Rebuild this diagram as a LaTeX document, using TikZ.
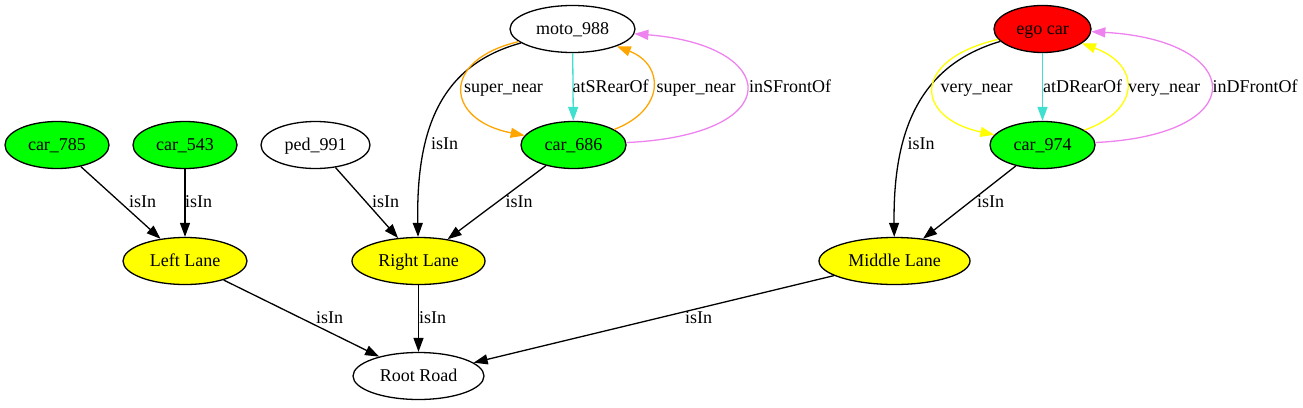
\documentclass[tikz,border=0pt]{standalone}
\usepackage{fontspec}
\setmainfont{Liberation Serif}
\usetikzlibrary{shapes.geometric,arrows.meta}
\definecolor{gvgreen}{RGB}{0,255,0}
\definecolor{gvorange}{RGB}{255,165,0}
\definecolor{gvturq}{RGB}{64,224,208}
\definecolor{gvviolet}{RGB}{238,130,238}
\definecolor{gvyellow}{RGB}{255,255,0}
\definecolor{gvred}{RGB}{255,0,0}
\begin{document}
\begin{tikzpicture}[x=1pt,y=-1pt,
  nd/.style={ellipse,draw=black,line width=1.3pt,minimum height=47pt,inner sep=0pt,
    font=\fontsize{18}{20}\selectfont,text height=12.5pt,text depth=1.5pt},
  lbl/.style={inner sep=0pt,font=\fontsize{18}{20}\selectfont,text height=12.5pt,text depth=1.5pt},
  e/.style={line width=1.3pt,-{Triangle[length=14pt,width=10pt]}},
]
\useasboundingbox (0,0) rectangle (1303,407);
% nodes
\node[nd,fill=gvgreen,minimum width=104pt] (c785) at (57,145) {car\_785};
\node[nd,fill=gvgreen,minimum width=104pt] (c543) at (185,145) {car\_543};
\node[nd,fill=white,minimum width=109pt] (p991) at (315.5,145) {ped\_991};
\node[nd,fill=gvyellow,minimum width=124pt] (ll) at (185,261) {Left Lane};
\node[nd,fill=gvyellow,minimum width=133pt] (rl) at (418.5,261) {Right Lane};
\node[nd,fill=gvyellow,minimum width=151pt] (ml) at (894.5,261) {Middle Lane};
\node[nd,fill=white,minimum width=131pt] (rr) at (418.5,376) {Root Road};
\node[nd,fill=white,minimum width=125pt] (m988) at (572.5,29) {moto\_988};
\node[nd,fill=gvgreen,minimum width=105pt] (c686) at (573.5,145) {car\_686};
\node[nd,fill=gvred,minimum width=97pt] (ego) at (1042.5,29) {ego car};
\node[nd,fill=gvgreen,minimum width=105pt] (c974) at (1042.5,145) {car\_974};
% black isIn edges
\draw[e] (c785) -- (ll);
\draw[e] (c543) -- (ll);
\draw[e] (p991) -- (rl);
\draw[e] (c686) -- (rl);
\draw[e] (c974) -- (ml);
\draw[e] (ll) -- (rr);
\draw[e] (rl) -- (rr);
\draw[e] (ml) -- (rr);
\draw[e] (m988) .. controls (440,65) and (416,130) .. (rl);
\draw[e] (ego) .. controls (920,65) and (893,130) .. (ml);
% moto relations
\draw[e,gvorange] (m988) .. controls (440,60) and (445,120) .. (c686);
\draw[e,gvturq] (m988) -- (c686);
\draw[e,gvorange] (c686) .. controls (665,110) and (665,65) .. (m988);
\draw[e,gvviolet] (c686) .. controls (790,135) and (780,45) .. (m988);
% ego relations
\draw[e,gvyellow] (ego) .. controls (910,60) and (915,118) .. (c974);
\draw[e,gvturq] (ego) -- (c974);
\draw[e,gvyellow] (c974) .. controls (1141,110) and (1141,65) .. (ego);
\draw[e,gvviolet] (c974) .. controls (1255,135) and (1245,40) .. (ego);
% labels
\node[lbl] (l1) at (142.5,202) {isIn};
\node[lbl] (l2) at (198.5,202) {isIn};
\node[lbl] (l3) at (385.5,202) {isIn};
\node[lbl] (l4) at (444.5,144) {isIn};
\node[lbl] (l5) at (519,202) {isIn};
\node[lbl] (l6) at (503.5,87) {super\_near};
\node[lbl] (l7) at (610.5,87) {atSRearOf};
\node[lbl] (l8) at (696,87) {super\_near};
\node[lbl] (l9) at (790,87) {inSFrontOf};
\node[lbl] (l10) at (976.5,87) {very\_near};
\node[lbl] (l11) at (1082.5,87) {atDRearOf};
\node[lbl] (l12) at (1164,87) {very\_near};
\node[lbl] (l13) at (1255,87) {inDFrontOf};
\node[lbl] (l14) at (921,144) {isIn};
\node[lbl] (l15) at (990.5,202) {isIn};
\node[lbl] (l16) at (329.5,318) {isIn};
\node[lbl] (l17) at (432.5,318) {isIn};
\node[lbl] (l18) at (698.5,318) {isIn};
\end{tikzpicture}
\end{document}
